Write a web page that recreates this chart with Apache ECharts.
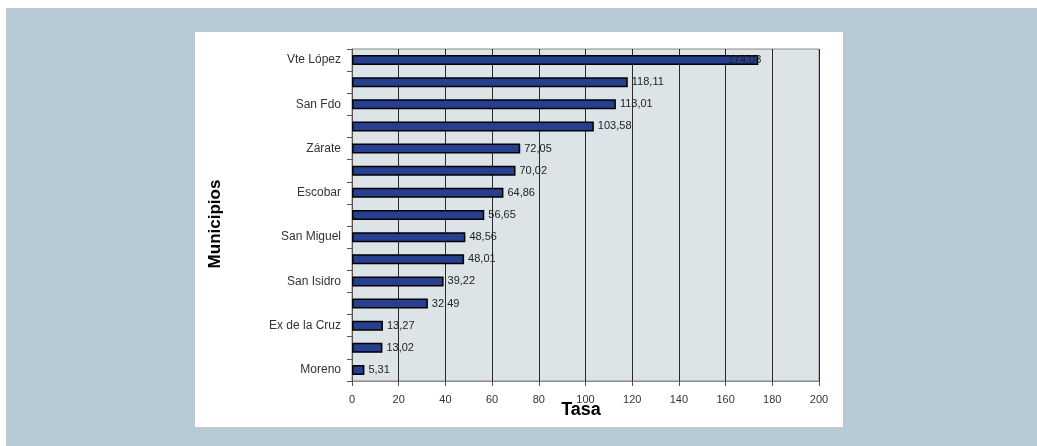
<!DOCTYPE html>
<html>
<head>
<meta charset="utf-8">
<script src="https://cdn.jsdelivr.net/npm/echarts@6/dist/echarts.min.js"></script>
<style>
  html, body { margin: 0; padding: 0; background: #ffffff; }
  #wrap { position: relative; width: 1037px; height: 446px; overflow: hidden; }
  #frame { position: absolute; left: 6px; top: 8px; right: 0; bottom: 0; background: #b8cad6; }
  #panel { position: absolute; left: 195px; top: 32px; width: 648px; height: 395px; background: #ffffff; }
  #chart { position: absolute; left: 0; top: 0; width: 1037px; height: 446px; }
</style>
</head>
<body>
<div id="wrap">
  <div id="frame"></div>
  <div id="panel"></div>
  <div id="chart"></div>
</div>
<script>
// Municipios (only every other one carries a visible name)
const municipios = ['Vte López', '', 'San Fdo', '', 'Zárate', '', 'Escobar', '',
  'San Miguel', '', 'San Isidro', '', 'Ex de la Cruz', '', 'Moreno'];
// Tasa por municipio
const tasas = [174.03, 118.11, 113.01, 103.58, 72.05, 70.02, 64.86, 56.65,
  48.56, 48.01, 39.22, 32.49, 13.27, 13.02, 5.31];
const xMin = 0, xMax = 200, xStep = 20;

const font = 'Liberation Sans, Arial, sans-serif';
const fmt = v => v.toFixed(2).replace('.', ',');

const chart = echarts.init(document.getElementById('chart'), null, { renderer: 'canvas' });

const barData = tasas.map((v, i) => {
  const item = { value: v };
  if (i === 0) {
    // the longest bar carries its value over its own end
    item.label = { position: 'insideRight', distance: 0, offset: [3, 0] };
  }
  return item;
});

chart.setOption({
  backgroundColor: 'transparent',
  animation: false,
  grid: {
    left: 352, right: 218, top: 49, bottom: 65,
    show: true, backgroundColor: '#dde4e8', borderColor: '#8a8a8a', borderWidth: 1
  },
  xAxis: {
    type: 'value', min: xMin, max: xMax, interval: xStep,
    axisLine: { show: true, lineStyle: { color: '#8a8a8a', width: 1 } },
    axisTick: { show: true, length: 5, lineStyle: { color: '#555' } },
    axisLabel: { color: '#333', fontFamily: font, fontSize: 11, margin: 13 },
    splitLine: { show: true, lineStyle: { color: '#2a2a2a', width: 1 } }
  },
  yAxis: {
    type: 'category', data: municipios, inverse: true,
    axisLine: { show: true, lineStyle: { color: '#555', width: 1 } },
    axisTick: { show: true, length: 5, interval: 0, alignWithLabel: false, lineStyle: { color: '#555' } },
    axisLabel: { interval: 0, color: '#333', fontFamily: font, fontSize: 12, margin: 11 },
    splitLine: { show: false }
  },
  series: [{
    type: 'bar',
    data: barData,
    barWidth: 10,
    itemStyle: { color: '#263f8f', borderColor: '#000', borderWidth: 1.5 },
    label: {
      show: true, position: 'right', distance: 4,
      color: '#222', fontFamily: font, fontSize: 11,
      formatter: p => fmt(p.value)
    }
  }],
  graphic: [
    {
      type: 'text', x: 215, y: 224, rotation: Math.PI / 2,
      style: {
        text: 'Municipios', fontFamily: font, fontSize: 17, fontWeight: 'bold',
        fill: '#000', align: 'center', verticalAlign: 'middle'
      }
    },
    {
      type: 'text', x: 581, y: 410,
      style: {
        text: 'Tasa', fontFamily: font, fontSize: 18, fontWeight: 'bold',
        fill: '#000', align: 'center', verticalAlign: 'middle'
      }
    }
  ]
});
</script>
</body>
</html>
